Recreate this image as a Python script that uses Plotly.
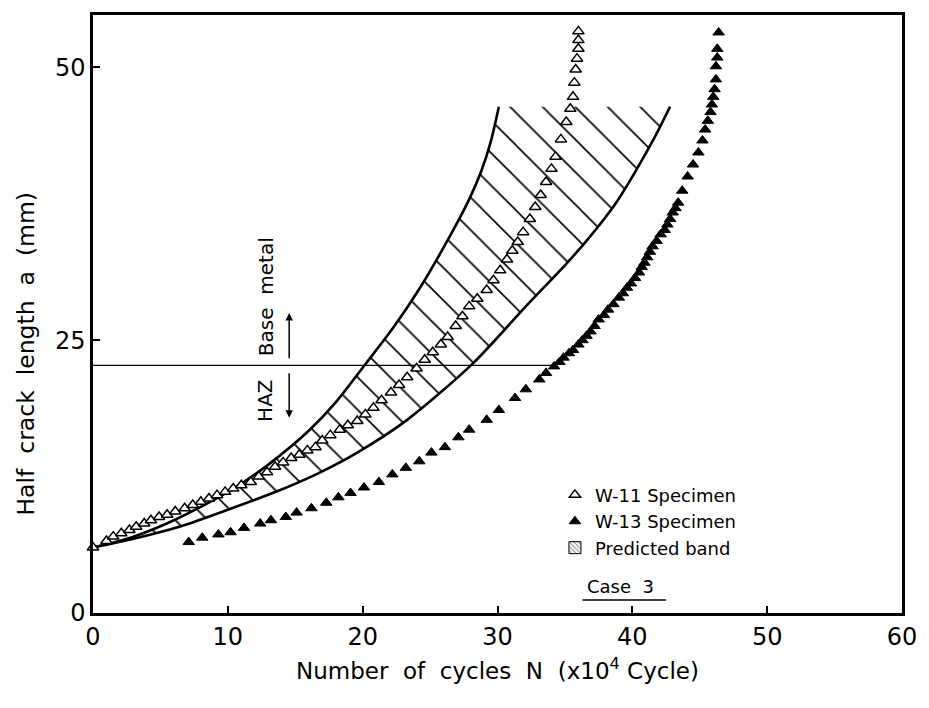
import plotly.graph_objects as go

# ---------------- data ----------------
w11_N = [0, 1.0, 1.5, 2.1, 2.7, 3.2, 3.8, 4.3, 4.9, 5.5,
         6.1, 6.8, 7.4, 8.0, 8.6, 9.2, 9.8, 10.4, 11.0, 11.7,
         12.3, 12.9, 13.5, 14.1, 14.7, 15.3, 15.9, 16.5, 17.0, 17.6,
         18.3, 18.9, 19.6, 20.2, 20.8, 21.4, 22.1, 22.7, 23.3, 24.0,
         24.6, 25.2, 25.8, 26.3, 26.9, 27.4, 27.9, 28.5, 29.2, 29.7,
         30.2, 30.7, 31.1, 31.5, 31.9, 32.4, 32.8, 33.2, 33.6, 34.0,
         34.3, 34.7, 35.1, 35.4, 35.6, 35.7, 35.8, 35.9, 36.0, 36.0,
         36.0]
w11_a = [6.0, 6.6, 7.0, 7.3, 7.6, 7.9, 8.2, 8.5, 8.8, 9.0,
         9.3, 9.6, 9.9, 10.2, 10.5, 10.8, 11.1, 11.4, 11.7, 12.0,
         12.5, 12.9, 13.4, 13.8, 14.2, 14.5, 14.9, 15.2, 15.8, 16.3,
         16.8, 17.2, 17.6, 18.2, 18.8, 19.5, 20.2, 20.9, 21.6, 22.4,
         23.2, 23.9, 24.6, 25.3, 26.3, 27.2, 28.1, 28.8, 29.6, 30.5,
         31.4, 32.4, 33.2, 34.0, 34.9, 36.1, 37.2, 38.3, 39.5, 40.7,
         41.8, 43.4, 45.0, 46.2, 47.3, 48.6, 49.8, 50.8, 51.7, 52.5,
         53.3]

w13_N = [7.1, 8.1, 9.3, 10.2, 11.2, 12.4, 13.2, 14.3, 15.1, 16.2,
         17.3, 18.2, 19.1, 20.1, 21.2, 22.2, 23.2, 24.2, 25.1, 26.1,
         27.1, 27.9, 29.2, 30.1, 31.3, 32.1, 33.1, 33.6, 34.2, 34.6,
         34.9, 35.3, 35.6, 36.0, 36.3, 36.6, 36.9, 37.2, 37.5, 37.9,
         38.2, 38.6, 39.0, 39.3, 39.6, 39.9, 40.2, 40.5, 40.7, 40.9,
         41.1, 41.3, 41.5, 41.8, 42.1, 42.4, 42.6, 42.8, 43.0, 43.2,
         43.4, 43.7, 44.1, 44.5, 44.9, 45.2, 45.4, 45.6, 45.8, 45.9,
         46.0, 46.1, 46.2, 46.2, 46.3, 46.3, 46.4]
w13_a = [6.5, 6.9, 7.2, 7.4, 7.8, 8.2, 8.5, 8.8, 9.2, 9.6,
         10.1, 10.6, 11.0, 11.5, 12.0, 12.7, 13.3, 13.9, 14.7, 15.2,
         16.1, 16.8, 17.7, 18.6, 19.7, 20.5, 21.4, 22.0, 22.6, 23.0,
         23.4, 23.8, 24.1, 24.6, 25.0, 25.4, 25.8, 26.3, 26.9, 27.3,
         27.8, 28.3, 28.9, 29.3, 29.8, 30.2, 30.7, 31.2, 31.7, 32.1,
         32.6, 33.1, 33.6, 34.1, 34.7, 35.1, 35.6, 36.1, 36.7, 37.1,
         37.6, 38.7, 40.0, 41.1, 42.2, 43.3, 44.3, 45.1, 45.9, 46.6,
         47.3, 48.0, 48.9, 50.1, 50.9, 51.7, 53.2]

# predicted band boundaries
band_upper_N = [0, 3.0, 6.0, 10.3, 13.0, 16.0, 18.0, 20.2, 22.3, 24.3, 26.5, 27.9, 28.8, 29.5, 30.1]
band_upper_a = [6.0, 7.0, 8.5, 11.3, 13.6, 16.7, 19.3, 22.8, 26.2, 29.9, 34.6, 37.9, 40.5, 43.2, 46.4]
band_lower_N = [0, 3.0, 6.4, 10.3, 13.75, 16.7, 19.6, 23.3, 28.2, 32.1, 35.1, 36.8, 38.8, 40.2, 41.7, 42.8]
band_lower_a = [6.0, 6.8, 7.9, 9.6, 11.2, 12.8, 14.7, 17.7, 22.9, 28.1, 32.0, 34.4, 37.6, 40.4, 43.7, 46.4]

# HAZ / base metal boundary
boundary_N = [0, 34.3]
boundary_a = [22.7, 22.7]

x_ticks = [0, 10, 20, 30, 40, 50, 60]
y_ticks = [0, 25, 50]

FONT = "DejaVu Sans"

fig = go.Figure()

# hatched band (fill only)
fig.add_trace(go.Scatter(
    x=band_upper_N + band_lower_N[::-1],
    y=band_upper_a + band_lower_a[::-1],
    mode="lines", fill="toself", line=dict(width=0, color="rgba(0,0,0,0)"),
    fillcolor="white",
    fillpattern=dict(shape="\\", size=23, solidity=0.07, fgcolor="black", fgopacity=1,
                     bgcolor="white", fillmode="replace"),
    showlegend=False, hoverinfo="skip"))

for xs, ys in [(band_upper_N, band_upper_a), (band_lower_N, band_lower_a)]:
    fig.add_trace(go.Scatter(x=xs, y=ys, mode="lines",
                             line=dict(color="black", width=2.6, shape="spline", smoothing=0.8),
                             showlegend=False, hoverinfo="skip"))

fig.add_trace(go.Scatter(x=boundary_N, y=boundary_a, mode="lines",
                         line=dict(color="black", width=1.3), showlegend=False, hoverinfo="skip"))

fig.add_trace(go.Scatter(x=w13_N, y=w13_a, mode="markers", name="W-13 Specimen", legendrank=2,
                         cliponaxis=False,
                         marker=dict(symbol="triangle-up", size=10, color="black",
                                     line=dict(color="black", width=1))))
fig.add_trace(go.Scatter(x=w11_N, y=w11_a, mode="markers", name="W-11 Specimen", legendrank=1,
                         cliponaxis=False,
                         marker=dict(symbol="triangle-up", size=10, color="white",
                                     line=dict(color="black", width=1.5))))

# legend entry for the hatched band
fig.add_trace(go.Bar(x=[None], y=[None], name="Predicted band", legendrank=3,
                     marker=dict(color="white", line=dict(color="black", width=1),
                                 pattern=dict(shape="\\", size=4, solidity=0.3,
                                              fgcolor="black", bgcolor="white"))))

# HAZ / Base metal labels with arrows
fig.add_annotation(x=12.8, y=19.4, text="HAZ", textangle=-90, showarrow=False,
                   font=dict(family=FONT, size=20, color="black"))
fig.add_annotation(x=12.8, y=29.0, text="Base  metal", textangle=-90, showarrow=False,
                   font=dict(family=FONT, size=20, color="black"))
fig.add_annotation(x=14.55, y=17.9, ax=14.55, ay=22.1, xref="x", yref="y", axref="x", ayref="y",
                   text="", showarrow=True, arrowhead=2, arrowsize=1, arrowwidth=1.5, arrowcolor="black")
fig.add_annotation(x=14.55, y=27.5, ax=14.55, ay=23.2, xref="x", yref="y", axref="x", ayref="y",
                   text="", showarrow=True, arrowhead=2, arrowsize=1, arrowwidth=1.5, arrowcolor="black")

# Case label with underline
fig.add_annotation(x=39.1, y=2.4, text="Case  3", showarrow=False,
                   font=dict(family=FONT, size=18, color="black"))
fig.add_shape(type="line", xref="x", yref="y", x0=36.3, x1=42.5, y0=1.2, y1=1.2,
              line=dict(color="black", width=1.5))

# y-axis title as annotation (positioned like the reference)
fig.add_annotation(xref="paper", yref="paper", x=-0.083, y=0.4336, xanchor="center", yanchor="middle",
                   text="Half  crack  length  a  (mm)",
                   textangle=-90, showarrow=False, font=dict(family=FONT, size=23.5, color="black"))

axis_common = dict(showline=True, linecolor="black", linewidth=2.5, mirror=True,
                   ticks="inside", ticklen=7, tickwidth=1.5, tickcolor="black",
                   showgrid=False, zeroline=False,
                   tickfont=dict(family=FONT, size=24, color="black"))

fig.update_xaxes(range=[0, 60], tickvals=x_ticks,
                 title=dict(text="Number  of  cycles  N  (x10<sup>4</sup> Cycle)",
                            font=dict(family=FONT, size=23, color="black"), standoff=14),
                 **axis_common)
fig.update_yaxes(range=[0, 54.8], tickvals=y_ticks, **axis_common)

fig.update_layout(
    width=929, height=708,
    margin=dict(l=93, r=20, t=15, b=95),
    paper_bgcolor="white", plot_bgcolor="white",
    font=dict(family=FONT, color="black"),
    showlegend=True,
    legend=dict(x=0.571, y=0.228, xanchor="left", yanchor="top", bgcolor="rgba(0,0,0,0)",
                font=dict(family=FONT, size=18, color="black"), tracegroupgap=0, itemwidth=30),
)

fig.write_html("out.html")
